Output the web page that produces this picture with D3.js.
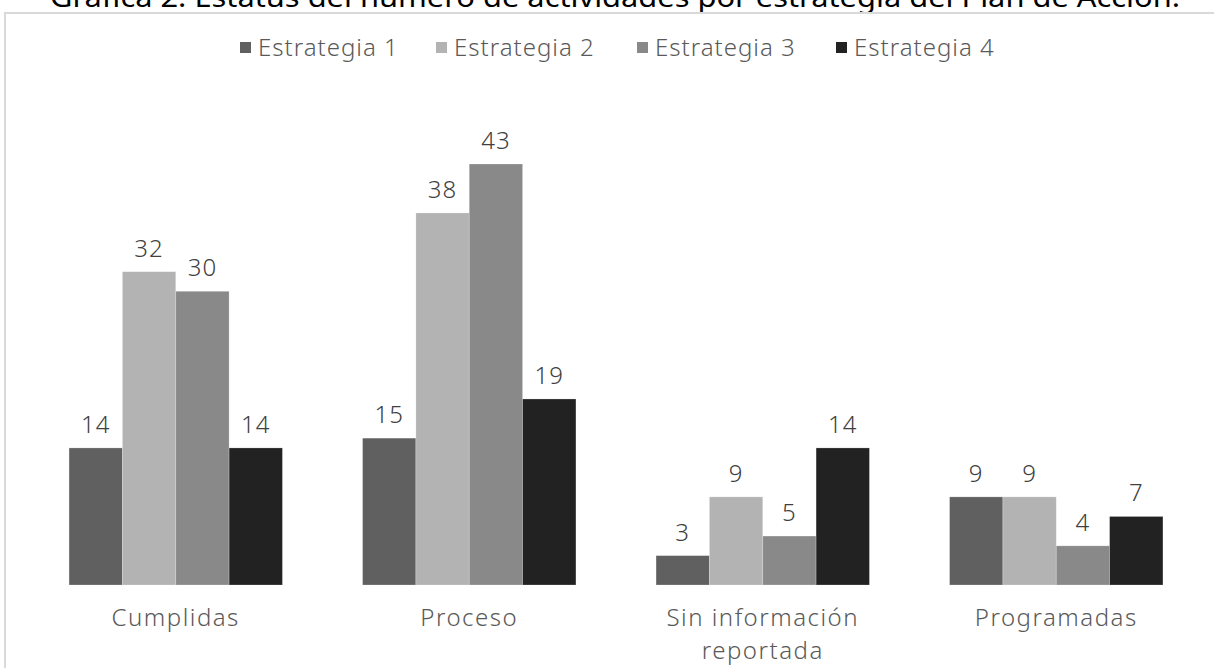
<!DOCTYPE html>
<html>
<head>
<meta charset="utf-8">
<script src="https://cdn.jsdelivr.net/npm/d3@7"></script>
<style>
  body { margin: 0; background: #fff; }
  text { font-family: "Noto Sans", "Open Sans", sans-serif; }
</style>
</head>
<body>
<div id="chart"></div>
<script>
var categories = ["Cumplidas", "Proceso", "Sin información reportada", "Programadas"];
var series = ["Estrategia 1", "Estrategia 2", "Estrategia 3", "Estrategia 4"];
var estrategia1 = [14, 15, 3, 9];
var estrategia2 = [32, 38, 9, 9];
var estrategia3 = [30, 43, 5, 4];
var estrategia4 = [14, 19, 14, 7];
var colors = ["#606060", "#b3b3b3", "#898989", "#222222"];

var values = [estrategia1, estrategia2, estrategia3, estrategia4];

var W = 1214, H = 668;
var margin = {top: 0, right: 11, bottom: 83, left: 29};

var svg = d3.select("#chart")
  .append("svg")
    .attr("width", W)
    .attr("height", H);

// title (cut off at the top in the source image)
svg.append("text")
  .attr("x", 50)
  .attr("y", 7)
  .attr("textLength", 1130)
  .attr("lengthAdjust", "spacingAndGlyphs")
  .style("font-size", "27px")
  .style("fill", "#000")
  .text("Gráfica 2. Estatus del número de actividades por estrategia del Plan de Acción.");

// chart frame
svg.append("rect")
  .attr("x", 5)
  .attr("y", 13)
  .attr("width", W + 20)
  .attr("height", H + 20)
  .style("fill", "none")
  .style("stroke", "#d9d9d9")
  .style("stroke-width", 2);

var x0 = d3.scaleBand()
  .domain(categories)
  .range([margin.left, W - margin.right])
  .paddingInner(0.273)
  .paddingOuter(0.1365);

var x1 = d3.scaleBand()
  .domain(series)
  .range([0, x0.bandwidth()]);

var y = d3.scaleLinear()
  .domain([0, 43])
  .range([H - margin.bottom, 164]);

var groups = svg.append("g")
  .selectAll("g")
  .data(categories)
  .enter()
  .append("g")
    .attr("transform", function(d) { return "translate(" + x0(d) + ",0)"; });

groups.selectAll("rect")
  .data(function(d, i) { return series.map(function(s, j) { return {s: s, v: values[j][i], c: colors[j]}; }); })
  .enter()
  .append("rect")
    .attr("x", function(d) { return x1(d.s); })
    .attr("y", function(d) { return y(d.v); })
    .attr("width", x1.bandwidth())
    .attr("height", function(d) { return y(0) - y(d.v); })
    .style("fill", function(d) { return d.c; })
    .style("stroke", "#ffffff")
    .style("stroke-opacity", 0.3)
    .style("stroke-width", 0.75);

groups.selectAll("text.val")
  .data(function(d, i) { return series.map(function(s, j) { return {s: s, v: values[j][i]}; }); })
  .enter()
  .append("text")
    .attr("class", "val")
    .attr("x", function(d) { return x1(d.s) + x1.bandwidth() / 2; })
    .attr("y", function(d) { return y(d.v) - 15; })
    .attr("text-anchor", "middle")
    .style("font-size", "24px")
    .style("font-weight", 300)
    .style("letter-spacing", "1px")
    .style("fill", "#404040")
    .text(function(d) { return d.v; });

// category labels, wrapped like Excel does
var xAxis = svg.append("g")
  .attr("transform", "translate(0," + y(0) + ")")
  .call(d3.axisBottom(x0).tickSize(0).tickPadding(0).tickFormat(""));
xAxis.select(".domain").remove();

var catLines = {"Sin información reportada": ["Sin información", "reportada"]};
xAxis.selectAll(".tick").each(function(d) {
  var lines = catLines[d] || [d];
  var t = d3.select(this).append("text")
    .attr("text-anchor", "middle")
    .style("font-size", "24px")
    .style("font-weight", 300)
    .style("letter-spacing", "1.5px")
    .style("fill", "#595959");
  lines.forEach(function(l, i) {
    t.append("tspan").attr("x", 0).attr("y", 41 + i * 33).text(l);
  });
});

// legend
var legend = svg.append("g")
  .attr("transform", "translate(0,47)");
var legX = [240, 436, 637, 836];
series.forEach(function(s, i) {
  legend.append("rect")
    .attr("x", legX[i])
    .attr("y", -5)
    .attr("width", 11)
    .attr("height", 11)
    .style("fill", colors[i]);
  legend.append("text")
    .attr("x", legX[i] + 18)
    .attr("y", 9)
    .style("font-size", "24px")
    .style("font-weight", 300)
    .style("letter-spacing", "1px")
    .style("fill", "#595959")
    .text(s);
});
</script>
</body>
</html>
